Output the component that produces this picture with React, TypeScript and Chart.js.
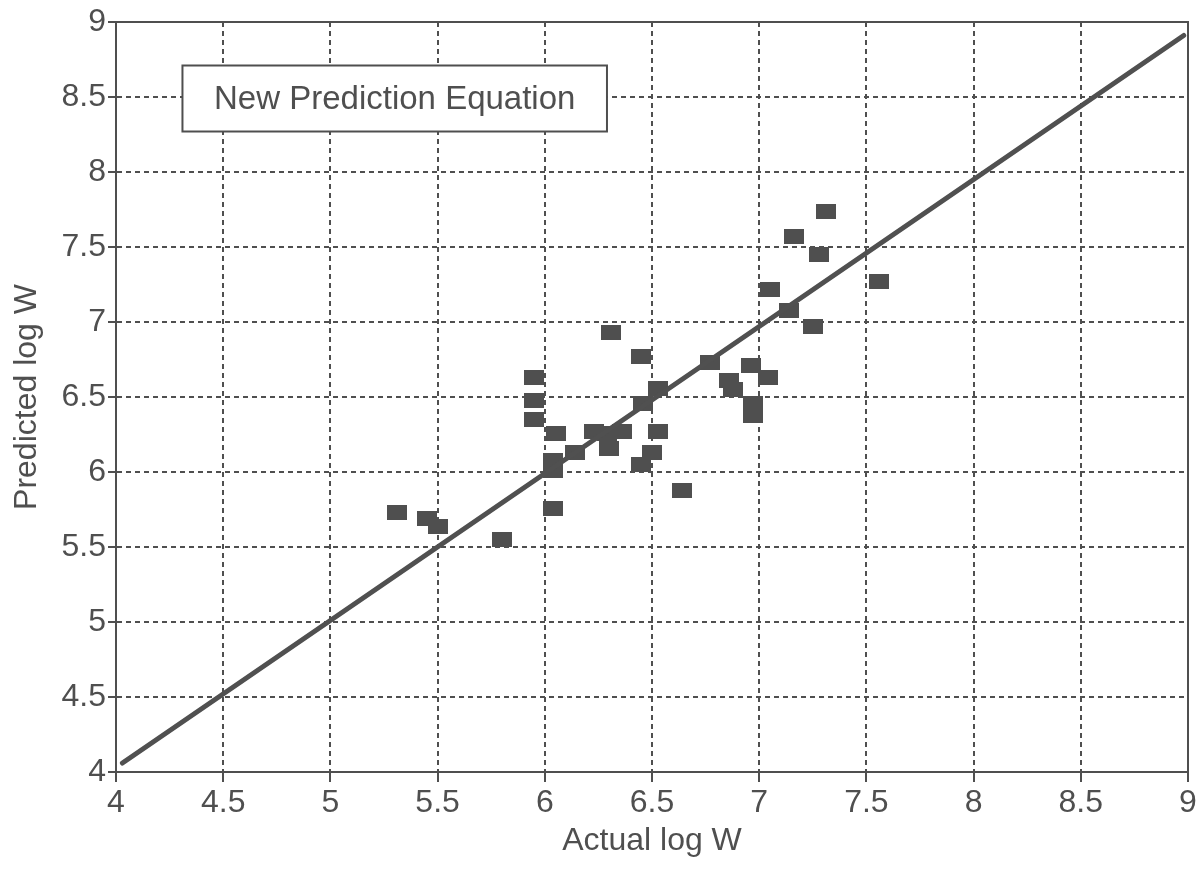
import React, { useEffect, useRef } from "react";
import { Chart, registerables } from "chart.js";

Chart.register(...registerables);

const actualLogW = [
  5.31, 5.45, 5.5, 5.8, 5.95, 5.95, 5.95, 6.05, 6.04, 6.04, 6.04, 6.14, 6.23, 6.29, 6.3, 6.36,
  6.31, 6.45, 6.46, 6.53, 6.53, 6.5, 6.45, 6.64, 6.77, 6.86, 6.88, 6.96, 7.04, 6.97, 6.97,
  7.05, 7.14, 7.25, 7.16, 7.31, 7.28, 7.56,
];
const predictedLogW = [
  5.73, 5.69, 5.64, 5.55, 6.63, 6.48, 6.35, 6.26, 6.08, 6.01, 5.76, 6.13, 6.27, 6.26, 6.16, 6.27,
  6.93, 6.77, 6.46, 6.56, 6.27, 6.13, 6.05, 5.88, 6.73, 6.61, 6.55, 6.71, 6.63, 6.46, 6.38,
  7.22, 7.08, 6.97, 7.57, 7.74, 7.45, 7.27,
];
const fitLineX = [4.03, 8.98];
const fitLineY = [4.06, 8.91];
const tickValues = [4, 4.5, 5, 5.5, 6, 6.5, 7, 7.5, 8, 8.5, 9];
const boxLabel = "New Prediction Equation";
const xTitle = "Actual log W";
const yTitle = "Predicted log W";

const INK = "#4f4f4f";
const FONT = "'Liberation Sans', Arial, sans-serif";

export default function App() {
  const ref = useRef<HTMLCanvasElement | null>(null);
  useEffect(() => {
    const canvas = ref.current;
    if (!canvas) return;
    const marker = document.createElement("canvas");
    marker.width = 20;
    marker.height = 15;
    const mctx = marker.getContext("2d")!;
    mctx.fillStyle = "#4f4f4f";
    mctx.fillRect(0, 0, 20, 15);

    const frame = {
      id: "frameBox",
      afterDraw(chart: any) {
        const { ctx, chartArea, scales } = chart;
        ctx.save();
        ctx.strokeStyle = INK;
        ctx.lineWidth = 2;
        ctx.setLineDash([]);
        ctx.strokeRect(chartArea.left, chartArea.top, chartArea.right - chartArea.left, chartArea.bottom - chartArea.top);
        const x0 = scales.x.getPixelForValue(4.31);
        const x1 = scales.x.getPixelForValue(6.29);
        const y0 = scales.y.getPixelForValue(8.71);
        const y1 = scales.y.getPixelForValue(8.27);
        ctx.fillStyle = "#ffffff";
        ctx.fillRect(x0, y0, x1 - x0, y1 - y0);
        ctx.strokeRect(x0, y0, x1 - x0, y1 - y0);
        ctx.fillStyle = INK;
        ctx.font = `33px ${FONT}`;
        ctx.textAlign = "center";
        ctx.textBaseline = "middle";
        ctx.fillText(boxLabel, (x0 + x1) / 2, (y0 + y1) / 2 + 1);
        ctx.restore();
      },
    };

    const tickOpts = {
      color: INK,
      font: { family: FONT, size: 32 },
    };

    const chart = new Chart(canvas, {
      type: "scatter",
      data: {
        datasets: [
          {
            type: "line",
            data: fitLineX.map((x, i) => ({ x, y: fitLineY[i] })),
            borderColor: "#505050",
            borderWidth: 5,
            pointRadius: 0,
            borderCapStyle: "round",
          } as any,
          {
            data: actualLogW.map((x, i) => ({ x, y: predictedLogW[i] })),
            pointStyle: marker as any,
            pointRadius: 10,
            backgroundColor: "#4f4f4f",
          },
        ],
      },
      options: {
        animation: false,
        responsive: false,
        layout: { padding: { top: 22, right: 15, left: 0, bottom: 0 } },
        plugins: { legend: { display: false }, tooltip: { enabled: false } },
        scales: {
          x: {
            type: "linear",
            min: 4,
            max: 9,
            afterBuildTicks: (axis: any) => {
              axis.ticks = tickValues.map((v) => ({ value: v }));
            },
            afterFit: (axis: any) => {
              axis.height = 97;
            },
            ticks: { ...tickOpts, padding: 2, callback: (v: any) => String(v) },
            grid: {
              color: INK,
              lineWidth: 2,
              tickLength: 10,
              tickColor: INK,
              tickBorderDash: [],
              drawOnChartArea: true,
            } as any,
            border: { display: true, color: INK, width: 2, dash: [5, 4] } as any,
            title: {
              display: true,
              text: xTitle,
              color: INK,
              font: { family: FONT, size: 32 },
              padding: { top: 0, bottom: 9 },
            },
          },
          y: {
            type: "linear",
            min: 4,
            max: 9,
            afterBuildTicks: (axis: any) => {
              axis.ticks = tickValues.map((v) => ({ value: v }));
            },
            afterFit: (axis: any) => {
              axis.width = 116;
            },
            ticks: { ...tickOpts, padding: 2, callback: (v: any) => String(v) },
            grid: {
              color: INK,
              lineWidth: 2,
              tickLength: 8,
              tickColor: INK,
              tickBorderDash: [],
            } as any,
            border: { display: true, color: INK, width: 2, dash: [5, 4] } as any,
            title: {
              display: true,
              text: yTitle,
              color: INK,
              font: { family: FONT, size: 32 },
              padding: { top: 8, bottom: 0 },
            },
          },
        },
      },
      plugins: [frame],
    });
    return () => chart.destroy();
  }, []);

  return (
    <div style={{ position: "fixed", left: 0, top: 0, width: 1203, height: 869, background: "#fff" }}>
      <canvas ref={ref} width={1203} height={869} style={{ width: 1203, height: 869 }} />
    </div>
  );
}
